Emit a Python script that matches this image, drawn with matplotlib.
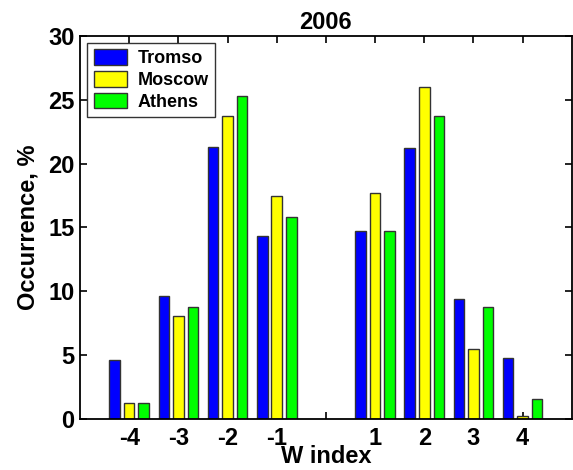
import numpy as np
import matplotlib
matplotlib.use('Agg')
import matplotlib.pyplot as plt

# W index categories (no bars at 0)
w_index = [-4, -3, -2, -1, 1, 2, 3, 4]

# occurrence (%)
tromso = [4.6, 9.6, 21.3, 14.35, 14.7, 21.2, 9.4, 4.8]
moscow = [1.25, 8.1, 23.75, 17.5, 17.7, 26.0, 5.5, 0.2]
athens = [1.25, 8.8, 25.3, 15.85, 14.7, 23.75, 8.8, 1.55]

series_names = ['Tromso', 'Moscow', 'Athens']
series_colors = ['#0000ff', '#ffff00', '#00ff00']

plt.rcParams['font.family'] = ['Liberation Sans', 'DejaVu Sans']
plt.rcParams['font.weight'] = 'bold'

fig = plt.figure(figsize=(5.73, 4.7), dpi=100)
ax = fig.add_axes([0.1396, 0.1085, 0.8584, 0.815])
ax.set_axisbelow(True)

x = np.array(w_index, dtype=float)
offset = 0.295
width = 0.215
for i, (vals, name, col) in enumerate(zip([tromso, moscow, athens], series_names, series_colors)):
    ax.bar(x + (i - 1) * offset, vals, width, color=col, edgecolor='#333333',
           linewidth=1.0, label=name)

ax.set_xlim(-5, 5)
ax.set_ylim(0, 30)
ax.set_xticks(range(-4, 5))
ax.set_xticklabels(['-4', '-3', '-2', '-1', '', '1', '2', '3', '4'])
ax.set_yticks(range(0, 31, 5))

ax.tick_params(direction='in', length=5, width=1.2, top=True, right=True,
               labelsize=17, pad=6)
ax.tick_params(axis='y', pad=4)
for lab in ax.get_xticklabels() + ax.get_yticklabels():
    lab.set_fontweight('bold')
for sp in ax.spines.values():
    sp.set_linewidth(1.3)

ax.set_title('2006', fontsize=17, fontweight='bold', pad=5)
ax.set_xlabel('W index', fontsize=17, fontweight='bold', labelpad=-4)
ax.set_ylabel('Occurrence, %', fontsize=17, fontweight='bold', labelpad=6)

leg = ax.legend(loc='upper left', prop={'weight': 'bold', 'size': 13},
                handlelength=1.85, handleheight=0.95, handletextpad=0.6,
                labelspacing=0.2, borderpad=0.35, borderaxespad=0.4,
                fancybox=False, edgecolor='#333333', framealpha=1)
leg.get_frame().set_linewidth(1.0)

fig.savefig('out.png', dpi=100)
